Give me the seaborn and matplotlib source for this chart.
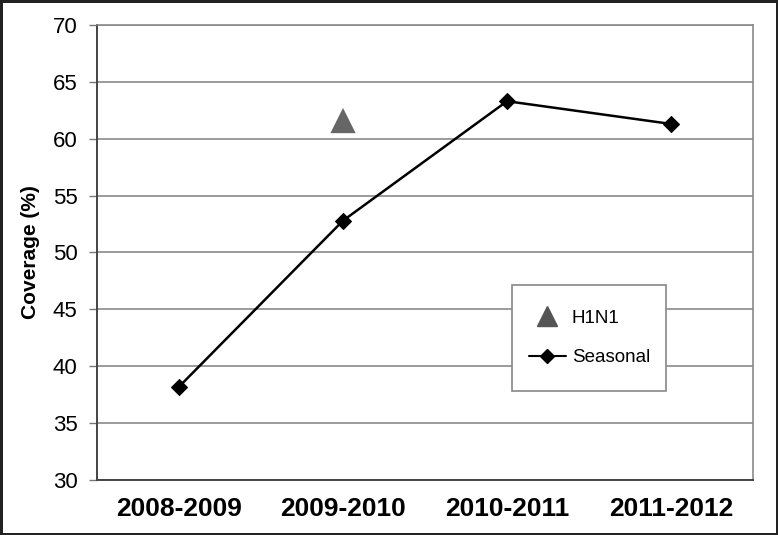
"""
Influenza vaccination coverage by season
"""
import pandas as pd
import matplotlib.pyplot as plt
import seaborn as sns
from matplotlib.lines import Line2D
from matplotlib.patches import Rectangle

# Data
seasons = ['2008-2009', '2009-2010', '2010-2011', '2011-2012']
seasonal_coverage = [38.2, 52.8, 63.3, 61.3]
h1n1_season = ['2009-2010']
h1n1_coverage = [61.6]
y_ticks = [30, 35, 40, 45, 50, 55, 60, 65, 70]

seasonal_df = pd.DataFrame({'season': seasons, 'coverage': seasonal_coverage})
h1n1_df = pd.DataFrame({'season': h1n1_season, 'coverage': h1n1_coverage})

sns.set_style('white')
plt.rcParams['font.family'] = ['Liberation Sans', 'DejaVu Sans']
plt.rcParams['text.color'] = 'black'
plt.rcParams['xtick.labelcolor'] = 'black'
plt.rcParams['ytick.labelcolor'] = 'black'
plt.rcParams['axes.labelcolor'] = 'black'

fig = plt.figure(figsize=(7.78, 5.35), dpi=100)
fig.patch.set_edgecolor('#222222')
fig.patch.set_linewidth(2.5)
ax = fig.add_axes([0.1247, 0.1028, 0.8432, 0.8505])

grid_col = '#8a8a8a'
for v in y_ticks:
    ax.axhline(v, color=grid_col, lw=1.2, zorder=0)

sns.lineplot(data=seasonal_df, x='season', y='coverage', ax=ax, color='black',
             lw=1.8, marker='D', markersize=8, markeredgecolor='black', sort=False,
             legend=False, zorder=3)
sns.scatterplot(data=h1n1_df, x='season', y='coverage', ax=ax, color='#666666',
                marker='^', s=330, edgecolor='none', legend=False, zorder=3)

ax.set_xlim(-0.5, len(seasons) - 0.5)
ax.set_ylim(30, 70)
ax.set_yticks(y_ticks)
ax.set_yticklabels([str(v) for v in y_ticks], fontsize=16)
ax.set_xticks(range(len(seasons)))
ax.set_xticklabels(seasons, fontsize=19, fontweight='bold')
ax.set_xticks([i - 0.5 for i in range(len(seasons) + 1)], minor=True)
ax.tick_params(axis='x', which='major', length=0, pad=12)
ax.tick_params(axis='x', which='minor', length=6, width=1, color='#555555', direction='out')
ax.tick_params(axis='y', which='major', length=6, width=1, color='#777777',
               direction='out', pad=8, left=True)

ax.set_xlabel('')
ax.set_ylabel('Coverage (%)', fontsize=15, fontweight='bold', labelpad=9)

for side in ['left', 'bottom']:
    ax.spines[side].set_color('#444444')
    ax.spines[side].set_linewidth(1.4)
for side in ['top', 'right']:
    ax.spines[side].set_color(grid_col)
    ax.spines[side].set_linewidth(1.2)

# Legend box
box = (0.633, 0.196, 0.235, 0.233)
ax.add_patch(Rectangle(box[:2], box[2], box[3], transform=ax.transAxes,
                       facecolor='white', edgecolor='#888888', lw=1.2, zorder=4))
handles = [
    Line2D([], [], color='#555555', marker='^', markersize=14, linestyle='none'),
    Line2D([], [], color='black', marker='D', markersize=7, lw=1.5),
]
leg = ax.legend(handles, ['H1N1', 'Seasonal'], loc='center', bbox_to_anchor=box,
                frameon=False, fontsize=13.5, handlelength=2.0, handletextpad=0.3,
                labelspacing=1.2)
leg.set_zorder(5)

plt.savefig('out.png', dpi=100)
